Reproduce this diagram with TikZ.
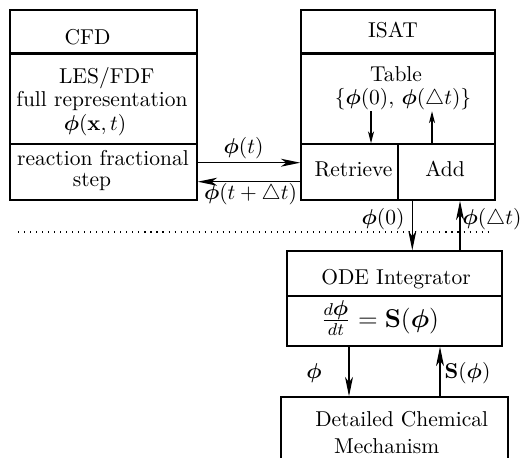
\documentclass[tikz,border=0pt]{standalone}
\usepackage{bm}
\usetikzlibrary{arrows.meta,fit}
% one drawing unit
\newdimen\pxu \pxu=0.4651pt
\tikzset{
  box/.style={draw, line width=0.7pt, inner sep=0pt},
  sepline/.style={line width=1.3pt},
  lbl/.style={anchor=base, inner sep=0pt},
  flow/.style={line width=0.55pt, -{Stealth[length=9pt,width=3.7pt,inset=2.5pt]}},
  tflow/.style={line width=0.55pt, -{Stealth[length=5.5pt,width=2.8pt,inset=1.5pt]}},
  dotline/.style={line width=0.5pt, dash pattern=on 0.5pt off 2.3pt},
}
\begin{document}
\begin{tikzpicture}[x=0.4651pt, y=-0.4651pt]
\clip (0,0) rectangle (524,457);

% CFD block
\node[box, fit={(10,10) (197,53)}] (cfdT) {};
\node[box, fit={(10,53) (197,144)}] (cfdB) {};
\node[box, fit={(10,144) (197,200)}] (cfdS) {};
\draw[sepline] (cfdT.south west) -- (cfdT.south east);

% ISAT block
\node[box, fit={(301,10) (495,53)}] (isatT) {};
\node[box, fit={(301,53) (495,144)}] (isatB) {};
\node[box, fit={(301,144) (398,200)}] (retr) {};
\node[box, fit={(398,144) (495,200)}] (add) {};
\draw[sepline] (isatT.south west) -- (isatT.south east);

% ODE integrator
\node[box, fit={(287,251) (502,296)}] (odeT) {};
\node[box, fit={(287,296) (502,346)}] (odeB) {};

% chemistry mechanism (runs past the lower edge)
\node[box, fit={(281,397) (508,490)}] (dcm) {};

% separation line
\coordinate (dotL) at (18,232);
\coordinate (dotR) at (490,232);
\draw[dotline] (dotL) -- (dotR);

% CFD <-> ISAT
\draw[flow] ([yshift=9.3*\pxu]cfdS.east) -- ([yshift=9.3*\pxu]retr.west);
\draw[flow] ([yshift=-9.7*\pxu]retr.west) -- ([yshift=-9.7*\pxu]cfdS.east);

% table access
\draw[tflow] ([xshift=21.5*\pxu,yshift=32*\pxu]retr.north) -- ([xshift=21.5*\pxu]retr.north);
\draw[tflow] ([xshift=-14.5*\pxu]add.north) -- ([xshift=-14.5*\pxu,yshift=32*\pxu]add.north);

% ISAT <-> ODE
\draw[flow] ([xshift=-34.2*\pxu]add.south) coordinate (q1) -- (q1 |- odeT.north);
\coordinate (q2) at ([xshift=13.5*\pxu]add.south);
\draw[flow] (q2 |- odeT.north) -- (q2);

% ODE <-> mechanism
\draw[flow] ([xshift=-45.5*\pxu]odeB.south) coordinate (q3) -- (q3 |- dcm.north);
\coordinate (q4) at ([xshift=45.5*\pxu]odeB.south);
\draw[flow] (q4 |- dcm.north) -- (q4);

% texts
\node[lbl] (tCFD) at (87.5,44) {CFD};
\node[lbl] (tLES) at (106.7,83) {LES/FDF};
\node[lbl] (tFull) at (102,106) {full representation};
\node[lbl] (tPhiX) at (95,130) {$\bm{\phi}(\mathbf{x},t)$};
\node[lbl] (tReac) at (103,165) {reaction fractional};
\node[lbl] (tStep) at (92,186) {step};

\node[lbl] (tISAT) at (393,37.3) {ISAT};
\node[lbl] (tTable) at (396,81.7) {Table};
\node[lbl] (tSet) at (403,104.6) {$\{\bm{\phi}(0),\,\bm{\phi}(\triangle t)\}$};
\node[lbl] (tRetr) at (353.5,176.7) {Retrieve};
\node[lbl] (tAdd) at (445,176.7) {Add};

\node[lbl] (lPhiT) at (243.5,153) {$\bm{\phi}(t)$};
\node[lbl] (lPhiTdt) at (250.5,199.6) {$\bm{\phi}(t+\triangle t)$};
\node[lbl] (lPhi0) at (383,224.6) {$\bm{\phi}(0)$};
\node[lbl] (lPhiDt) at (492,224.6) {$\bm{\phi}(\triangle t)$};

\node[lbl] (tODE) at (396,284) {ODE Integrator};
\node[lbl] (tEq) at (380,327) {\large$\frac{d\mbox{\normalsize$\bm{\phi}$}}{dt}=\mathbf{S}(\bm{\phi})$};

\node[lbl] (lPhi) at (314,378) {$\bm{\phi}$};
\node[lbl] (lS) at (467.5,378.6) {$\mathbf{S}(\bm{\phi})$};

\node[lbl] (tDet) at (401.7,426.7) {Detailed Chemical};
\node[lbl] (tMech) at (386.7,453) {Mechanism};
\end{tikzpicture}
\end{document}
